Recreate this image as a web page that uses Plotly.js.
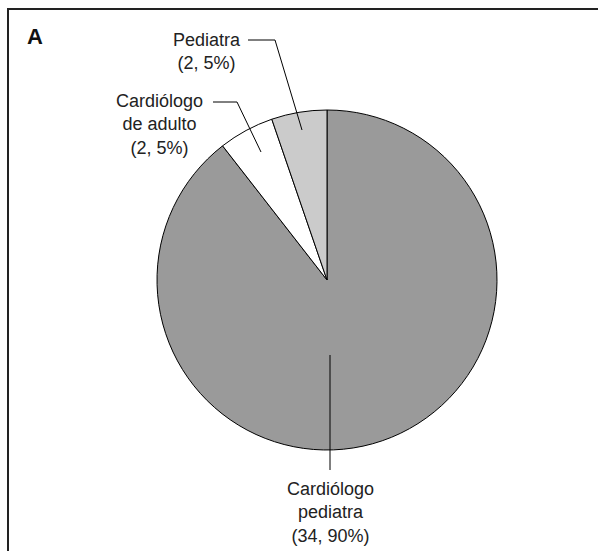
<!DOCTYPE html>
<html>
<head>
<meta charset="utf-8">
<script src="https://cdn.plot.ly/plotly-3.0.1.min.js"></script>
<style>html,body{margin:0;padding:0;background:#fff;}#chart{width:598px;height:551px;}</style>
</head>
<body>
<div id="chart"></div>
<script>
const categories = ["Cardiólogo pediatra", "Cardiólogo de adulto", "Pediatra"];
const counts = [34, 2, 2];
const percents = [90, 5, 5];
const labelTexts = ["Cardiólogo<br>pediatra<br>(34, 90%)", "Cardiólogo<br>de adulto<br>(2, 5%)", "Pediatra<br>(2, 5%)"];
const sliceColors = ["#9a9a9a", "#ffffff", "#cbcbcb"];

const W = 598, H = 551;
const px = x => x / W;
const py = y => 1 - y / H;
const FONT = "Liberation Sans, Arial, sans-serif";

const trace = {
  type: "pie",
  labels: categories,
  values: counts,
  sort: false,
  direction: "clockwise",
  rotation: 0,
  textinfo: "none",
  hoverinfo: "label+value",
  marker: {colors: sliceColors, line: {color: "#000", width: 1}},
  domain: {x: [px(157), px(497)], y: [py(450), py(110)]},
  showlegend: false
};

const annotations = [
  {text: "<b>A</b>", x: px(35), y: py(36), xanchor: "center", yanchor: "middle", font: {family: FONT, size: 22, color: "#111"}, showarrow: false},
  {text: labelTexts[2], x: px(207), y: py(51), xanchor: "center", yanchor: "middle", align: "center", font: {family: FONT, size: 18, color: "#222"}, showarrow: false},
  {text: labelTexts[1], x: px(159), y: py(125), xanchor: "center", yanchor: "middle", align: "center", font: {family: FONT, size: 18, color: "#222"}, showarrow: false},
  {text: labelTexts[0], x: px(330), y: py(512), xanchor: "center", yanchor: "middle", align: "center", font: {family: FONT, size: 18, color: "#222"}, showarrow: false}
];

const lineStyle = {color: "#000", width: 1};
const shapes = [
  {type: "path", xref: "paper", yref: "paper", path: `M ${px(8)} 0 L ${px(8)} ${py(9)} L 1 ${py(9)}`, line: {color: "#222", width: 2}},
  {type: "path", xref: "paper", yref: "paper", path: `M ${px(248)} ${py(40)} L ${px(275)} ${py(40)} L ${px(302)} ${py(130)}`, line: lineStyle},
  {type: "path", xref: "paper", yref: "paper", path: `M ${px(213)} ${py(102)} L ${px(237)} ${py(102)} L ${px(261)} ${py(152)}`, line: lineStyle},
  {type: "line", xref: "paper", yref: "paper", x0: px(330), y0: py(355), x1: px(330), y1: py(470), line: lineStyle}
];

Plotly.newPlot("chart", [trace], {
  width: W, height: H,
  margin: {l: 0, r: 0, t: 0, b: 0},
  paper_bgcolor: "#fff",
  annotations: annotations,
  shapes: shapes,
  font: {family: FONT}
}, {displayModeBar: false, staticPlot: true});
</script>
</body>
</html>
